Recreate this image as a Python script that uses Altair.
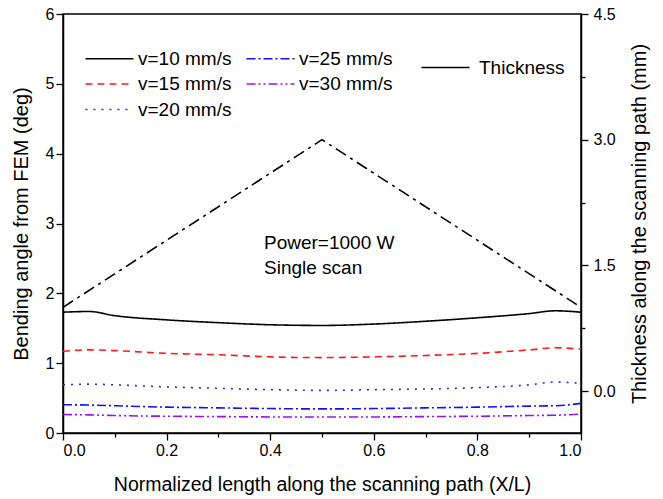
import altair as alt
import pandas as pd

# ---- data ----
x_norm = [0.0, 0.05, 0.1, 0.2, 0.3, 0.4, 0.5, 0.6, 0.7, 0.8, 0.9, 0.95, 1.0]
v10 = [1.73, 1.74, 1.68, 1.62, 1.58, 1.55, 1.54, 1.56, 1.60, 1.65, 1.71, 1.75, 1.73]
v15 = [1.17, 1.19, 1.18, 1.14, 1.12, 1.09, 1.08, 1.09, 1.11, 1.14, 1.19, 1.22, 1.20]
v20 = [0.69, 0.70, 0.69, 0.66, 0.64, 0.62, 0.61, 0.62, 0.63, 0.65, 0.69, 0.73, 0.71]
v25 = [0.405, 0.40, 0.39, 0.37, 0.36, 0.35, 0.345, 0.35, 0.36, 0.37, 0.385, 0.39, 0.425]
v30 = [0.265, 0.26, 0.25, 0.24, 0.235, 0.23, 0.23, 0.23, 0.235, 0.24, 0.25, 0.255, 0.27]
series_names = ["v=10 mm/s", "v=15 mm/s", "v=20 mm/s", "v=25 mm/s", "v=30 mm/s"]

thick_x = [0.0, 0.5, 1.0]
thick_mm = [1.0, 3.0, 1.0]

annot_text = ["Power=1000 W", "Single scan"]
annot_x = [0.388, 0.388]
annot_y = [2.72, 2.36]

colors = ["#000000", "#ff1a1a", "#2a2ad0", "#1010ff", "#9a10f0"]
dashes = [[1, 0], [7, 5], [2, 6], [9, 3, 2, 3], [9, 3, 2, 3, 2, 3]]

rows = []
for name, vals in zip(series_names, [v10, v15, v20, v25, v30]):
    for xv, yv in zip(x_norm, vals):
        rows.append({"x": xv, "angle": yv, "speed": name})
df = pd.DataFrame(rows)
df_th = pd.DataFrame({"x": thick_x, "thick": thick_mm, "lab": ["Thickness"] * 3})
df_an = pd.DataFrame({"x": annot_x, "y": annot_y, "t": annot_text})

FONT = "Liberation Sans"

xvals = [round(i / 10, 1) for i in range(11)]
x_axis = alt.Axis(
    values=xvals,
    labelExpr="round(datum.value*10) % 2 == 0 ? format(datum.value, '.1f') : ''",
    tickSize={"condition": {"test": "round(datum.value*10) % 2 == 1", "value": 4}, "value": 7},
    title="Normalized length along the scanning path (X/L)",
    grid=False, titlePadding=17, titleFontSize=19.5,
)
x_enc = alt.X("x:Q", scale=alt.Scale(domain=[0, 1], nice=False), axis=x_axis)

left_vals = [i / 2 for i in range(13)]
left_axis = alt.Axis(
    values=left_vals,
    labelExpr="datum.value % 1 == 0 ? format(datum.value, 'd') : ''",
    tickSize={"condition": {"test": "datum.value % 1 != 0", "value": 4}, "value": 7},
    title="Bending angle from FEM (deg)", grid=False, titlePadding=14, labelPadding=2,
)

right_vals = [0, 0.75, 1.5, 2.25, 3.0, 3.75, 4.5]
right_axis = alt.Axis(
    orient="right", values=right_vals,
    labelExpr="datum.value % 1.5 == 0 ? format(datum.value, '.1f') : ''",
    tickSize={"condition": {"test": "datum.value % 1.5 != 0", "value": 4}, "value": 7},
    title="Thickness along the scanning path (mm)", titleAngle=270, titleBaseline="top",
    grid=False, titlePadding=14, labelPadding=5,
)

# stroke-shaped legend symbol: custom path in unit box, size 144 -> 48 px long line
SYM = "M-1,0H7"
leg = dict(title=None, orient="none", legendX=19, legendY=35, columns=2,
           symbolType=SYM, symbolSize=144, symbolStrokeWidth=1.6,
           labelFontSize=19, labelFont=FONT, labelColor="black", labelOffset=37,
           rowPadding=5.5, columnPadding=11, labelLimit=300)

lines = alt.Chart(df).mark_line(strokeWidth=1.6, interpolate="monotone").encode(
    x=x_enc,
    y=alt.Y("angle:Q", scale=alt.Scale(domain=[0, 6], nice=False), axis=left_axis),
    color=alt.Color("speed:N", sort=series_names,
                    scale=alt.Scale(domain=series_names, range=colors),
                    legend=alt.Legend(**leg)),
    strokeDash=alt.StrokeDash("speed:N", sort=series_names,
                              scale=alt.Scale(domain=series_names, range=dashes),
                              legend=alt.Legend(**leg)),
)

annot = alt.Chart(df_an).mark_text(align="left", baseline="middle", fontSize=19, font=FONT,
                                   color="black").encode(
    x=alt.X("x:Q", scale=alt.Scale(domain=[0, 1], nice=False)),
    y=alt.Y("y:Q", scale=alt.Scale(domain=[0, 6], nice=False)),
    text="t:N",
)

left_layer = alt.layer(lines, annot)

thick = alt.Chart(df_th).mark_line(strokeWidth=1.6, strokeDash=[12, 5, 3, 5]).encode(
    x=x_enc,
    y=alt.Y("thick:Q", scale=alt.Scale(domain=[-0.5, 4.5], nice=False), axis=right_axis),
    color=alt.Color("lab:N", scale=alt.Scale(domain=["Thickness"], range=["#000000"]),
                    legend=alt.Legend(title=None, orient="none", legendX=355, legendY=44,
                                      symbolType=SYM, symbolSize=144, symbolDash=[1, 0],
                                      symbolStrokeWidth=1.6, labelFontSize=19, labelFont=FONT,
                                      labelColor="black", labelOffset=42)),
)

chart = alt.layer(left_layer, thick).resolve_scale(
    y="independent", color="independent", strokeDash="independent"
).properties(
    width=518, height=419,
    autosize=alt.AutoSizeParams(type="none"),
    padding={"left": 63, "top": 14, "right": 82, "bottom": 66},
    background="white",
).configure_view(
    stroke="black", strokeWidth=1.5,
).configure_axis(
    domainColor="black", domainWidth=1.5, tickColor="black", tickWidth=1.3,
    labelFont=FONT, labelFontSize=16, labelColor="black",
    titleFont=FONT, titleFontSize=20, titleFontWeight="normal", titleColor="black",
)

chart.save("out.html", embed_options={"renderer": "svg", "actions": False})
